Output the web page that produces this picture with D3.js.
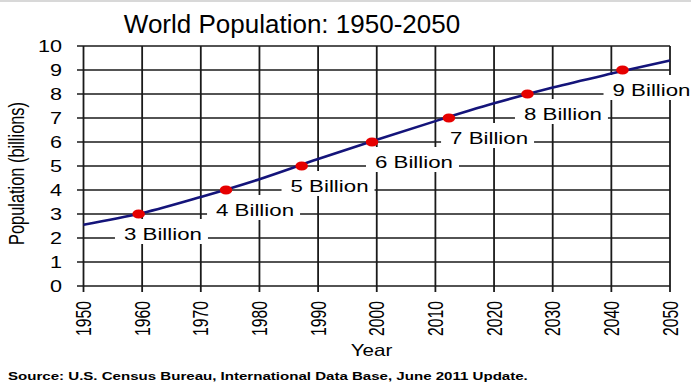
<!DOCTYPE html>
<html>
<head>
<meta charset="utf-8">
<script src="https://cdn.jsdelivr.net/npm/d3@7"></script>
<style>
  html, body { margin: 0; padding: 0; background: #fff; }
  svg { display: block; }
  text { font-family: "Liberation Sans", Arial, sans-serif; fill: #000; }
</style>
</head>
<body>
<svg id="chart" width="691" height="384"></svg>
<script>
// ---- data ----
const years = [1950, 1960, 1970, 1980, 1990, 2000, 2010, 2020, 2030, 2040, 2050];
const population = [2.55, 3.04, 3.71, 4.45, 5.29, 6.09, 6.87, 7.61, 8.27, 8.85, 9.40];
const milestoneYears = [1959.4, 1974.3, 1987.2, 1999.2, 2012.3, 2025.7, 2041.9];
const milestoneValues = [3, 4, 5, 6, 7, 8, 9];
const milestoneLabels = ["3 Billion", "4 Billion", "5 Billion", "6 Billion", "7 Billion", "8 Billion", "9 Billion"];
const labelStartYears = [1956.9, 1972.6, 1985.3, 1999.7, 2012.5, 2025.1, 2040.2];
const xTicks = [1950, 1960, 1970, 1980, 1990, 2000, 2010, 2020, 2030, 2040, 2050];
const yTicks = [0, 1, 2, 3, 4, 5, 6, 7, 8, 9, 10];
const titleText = "World Population: 1950-2050";
const xTitle = "Year";
const yTitle = "Population (billions)";
const sourceText = "Source: U.S. Census Bureau, International Data Base, June 2011 Update.";

// ---- layout ----
const SX = 1.35; // horizontal stretch of chart text
const svg = d3.select("#chart");
const x = d3.scaleLinear().domain([1950, 2050]).range([83.5, 670]);
const y = d3.scaleLinear().domain([0, 10]).range([286, 46]);

svg.append("rect").attr("x", 0).attr("y", 0).attr("width", 691).attr("height", 2).attr("fill", "#d8d8d8");

// title
svg.append("text").attr("x", 292).attr("y", 33).attr("text-anchor", "middle")
  .style("font-size", "26px").text(titleText);

// grid: horizontal
const grid = svg.append("g");
grid.selectAll("line.h").data(yTicks).join("line")
  .attr("x1", 77).attr("x2", x(2050))
  .attr("y1", d => y(d)).attr("y2", d => y(d))
  .attr("stroke", "#1a1a1a").attr("stroke-width", 1.4);
// grid: vertical
grid.selectAll("line.v").data(xTicks).join("line")
  .attr("x1", d => x(d)).attr("x2", d => x(d))
  .attr("y1", y(10)).attr("y2", y(0) + 6)
  .attr("stroke", "#1a1a1a").attr("stroke-width", 1.8);

// y tick labels
svg.append("g").selectAll("g").data(yTicks).join("g")
  .attr("transform", d => `translate(62,${y(d)})`)
  .append("text").attr("transform", `scale(${SX},1)`)
  .attr("text-anchor", "end").attr("dy", "0.36em")
  .style("font-size", "16px").text(d => d);

// x tick labels (rotated)
svg.append("g").selectAll("g").data(xTicks).join("g")
  .attr("transform", d => `translate(${x(d)},301) scale(${SX},1) rotate(-90)`)
  .append("text").attr("text-anchor", "end").attr("dy", "0.36em")
  .style("font-size", "15.7px").text(d => d);

// axis titles
svg.append("g").attr("transform", `translate(371.5,356) scale(1.25,1)`)
  .append("text").attr("text-anchor", "middle").style("font-size", "16.5px").text(xTitle);
svg.append("g").attr("transform", `translate(16.5,173.5) scale(${SX},1) rotate(-90)`)
  .append("text").attr("text-anchor", "middle").attr("dy", "0.36em")
  .style("font-size", "16.4px").text(yTitle);

// milestone label boxes
const lab = svg.append("g");
milestoneLabels.forEach((t, i) => {
  const cx = x(labelStartYears[i]);
  const cy = y(milestoneValues[i]) + 20;
  const g = lab.append("g").attr("transform", `translate(${cx},${cy})`);
  const rect = g.append("rect").attr("fill", "#fff");
  const txt = g.append("text").attr("transform", `scale(${SX},1)`)
    .attr("dy", "0.36em").style("font-size", "16.5px").text(t);
  const w = txt.node().getComputedTextLength() * SX;
  rect.attr("x", -9).attr("y", -15).attr("width", w + 15).attr("height", 25);
});

// line
const lineData = years.map((yr, i) => [yr, population[i]]);
svg.append("path").datum(lineData)
  .attr("fill", "none").attr("stroke", "#14147a").attr("stroke-width", 2.6)
  .attr("d", d3.line().x(d => x(d[0])).y(d => y(d[1])).curve(d3.curveMonotoneX));

// milestone dots
svg.append("g").selectAll("ellipse").data(milestoneYears).join("ellipse")
  .attr("cx", d => x(d)).attr("cy", (d, i) => y(milestoneValues[i]))
  .attr("rx", 6.3).attr("ry", 4.6).attr("fill", "#e60000");

// source
svg.append("g").attr("transform", "translate(8,380) scale(1.45,1)")
  .append("text").style("font-size", "10.4px").style("font-weight", "bold").text(sourceText);
</script>
</body>
</html>
